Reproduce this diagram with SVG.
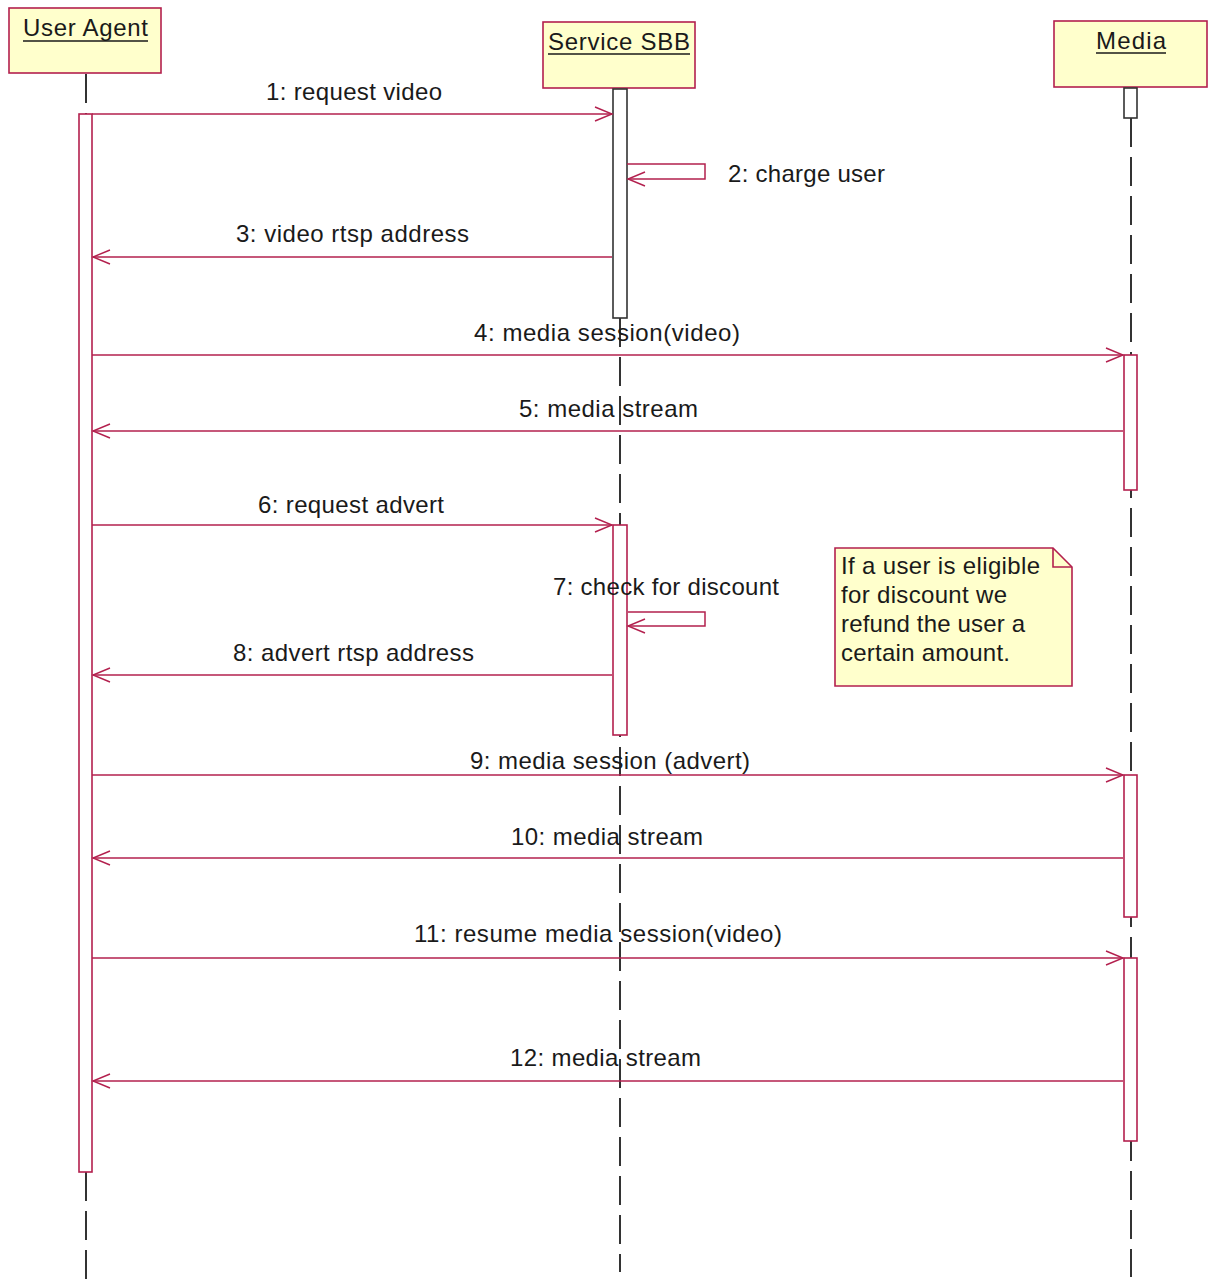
<svg xmlns="http://www.w3.org/2000/svg" width="1214" height="1279" viewBox="0 0 1214 1279">
  <defs>
    <style>
      .obj { fill: #ffffcc; stroke: #b3204e; stroke-width: 1.6; }
      .title { font-family: "Liberation Sans", Arial, sans-serif; font-size: 24px; fill: #1a1a1a; }
      .ul { stroke: #1a1a1a; stroke-width: 1.5; }
      .life { stroke: #333333; stroke-width: 2; stroke-dasharray: 29 10; fill: none; }
      .act { fill: #ffffff; stroke: #b3204e; stroke-width: 1.6; }
      .act-k { fill: #ffffff; stroke: #333333; stroke-width: 1.6; }
      .msg { stroke: #b3204e; stroke-width: 1.5; fill: none; }
      .lbl { font-family: "Liberation Sans", Arial, sans-serif; font-size: 24px; fill: #1a1a1a; }
      .note { fill: #ffffcc; stroke: #b3204e; stroke-width: 1.6; }
    </style>
    <marker id="open" markerWidth="20" markerHeight="18" refX="18" refY="8" orient="auto" markerUnits="userSpaceOnUse">
      <path d="M1,1 L18,8 L1,15" fill="none" stroke="#b3204e" stroke-width="1.4"/>
    </marker>
  </defs>
  <rect width="1214" height="1279" fill="#ffffff"/>

  <!-- lifelines -->
  <g id="lifelines">
    <line class="life" x1="86" y1="74" x2="86" y2="114"/>
    <line class="life" x1="86" y1="1172" x2="86" y2="1279" stroke-dasharray="6 11 29 10 29 10 29 10"/>
    <line class="life" x1="620" y1="318" x2="620" y2="1272"/>
    <line class="life" x1="1131" y1="118" x2="1131" y2="1277"/>
  </g>

  <!-- objects -->
  <g id="user-agent">
    <rect class="obj" x="9" y="8" width="152" height="65"/>
    <text class="title" x="23" y="36" textLength="125">User Agent</text>
    <line class="ul" x1="23" y1="41" x2="148" y2="41"/>
    <rect class="act" x="79" y="114" width="13" height="1058"/>
  </g>
  <g id="service-sbb">
    <rect class="obj" x="543" y="22" width="152" height="66"/>
    <text class="title" x="548" y="50" textLength="142">Service SBB</text>
    <line class="ul" x1="548" y1="54" x2="690" y2="54"/>
    <rect class="act-k" x="613" y="89" width="14" height="229"/>
    <rect class="act" x="613" y="525" width="14" height="210"/>
  </g>
  <g id="media">
    <rect class="obj" x="1054" y="21" width="153" height="66"/>
    <text class="title" x="1096" y="49" textLength="70">Media</text>
    <line class="ul" x1="1096" y1="53" x2="1166" y2="53"/>
    <rect class="act-k" x="1124" y="88" width="13" height="30"/>
    <rect class="act" x="1124" y="355" width="13" height="135"/>
    <rect class="act" x="1124" y="775" width="13" height="142"/>
    <rect class="act" x="1124" y="958" width="13" height="183"/>
  </g>

  <!-- note -->
  <g id="note">
    <path class="note" d="M835,548 L1053,548 L1072,567 L1072,686 L835,686 Z"/>
    <path d="M1053,548 L1053,567 L1072,567" fill="none" stroke="#b3204e" stroke-width="1.6"/>
    <text class="lbl" x="841" y="574" textLength="199">If a user is eligible</text>
    <text class="lbl" x="841" y="603" textLength="166">for discount we</text>
    <text class="lbl" x="841" y="632" textLength="184">refund the user a</text>
    <text class="lbl" x="841" y="661" textLength="169">certain amount.</text>
  </g>

  <!-- messages -->
  <g id="connectors">
    <line class="msg" x1="92" y1="114" x2="612" y2="114" marker-end="url(#open)"/>
    <path class="msg" d="M627,164 L705,164 L705,179 L628,179" marker-end="url(#open)"/>
    <line class="msg" x1="612" y1="257" x2="93" y2="257" marker-end="url(#open)"/>
    <line class="msg" x1="92" y1="355" x2="1123" y2="355" marker-end="url(#open)"/>
    <line class="msg" x1="1123" y1="431" x2="93" y2="431" marker-end="url(#open)"/>
    <line class="msg" x1="92" y1="525" x2="612" y2="525" marker-end="url(#open)"/>
    <path class="msg" d="M628,612 L705,612 L705,626 L628,626" marker-end="url(#open)"/>
    <line class="msg" x1="612" y1="675" x2="93" y2="675" marker-end="url(#open)"/>
    <line class="msg" x1="92" y1="775" x2="1123" y2="775" marker-end="url(#open)"/>
    <line class="msg" x1="1123" y1="858" x2="93" y2="858" marker-end="url(#open)"/>
    <line class="msg" x1="92" y1="958" x2="1123" y2="958" marker-end="url(#open)"/>
    <line class="msg" x1="1123" y1="1081" x2="93" y2="1081" marker-end="url(#open)"/>
  </g>

  <!-- message labels -->
  <g id="labels">
    <text class="lbl" x="266" y="100" textLength="176">1: request video</text>
    <text class="lbl" x="728" y="182" textLength="157">2: charge user</text>
    <text class="lbl" x="236" y="242" textLength="233">3: video rtsp address</text>
    <text class="lbl" x="474" y="341" textLength="266">4: media session(video)</text>
    <text class="lbl" x="519" y="417" textLength="179">5: media stream</text>
    <text class="lbl" x="258" y="513" textLength="186">6: request advert</text>
    <text class="lbl" x="553" y="595" textLength="226">7: check for discount</text>
    <text class="lbl" x="233" y="661" textLength="241">8: advert rtsp address</text>
    <text class="lbl" x="470" y="769" textLength="280">9: media session (advert)</text>
    <text class="lbl" x="511" y="845" textLength="192">10: media stream</text>
    <text class="lbl" x="414" y="942" textLength="368">11: resume media session(video)</text>
    <text class="lbl" x="510" y="1066" textLength="191">12: media stream</text>
  </g>
</svg>
